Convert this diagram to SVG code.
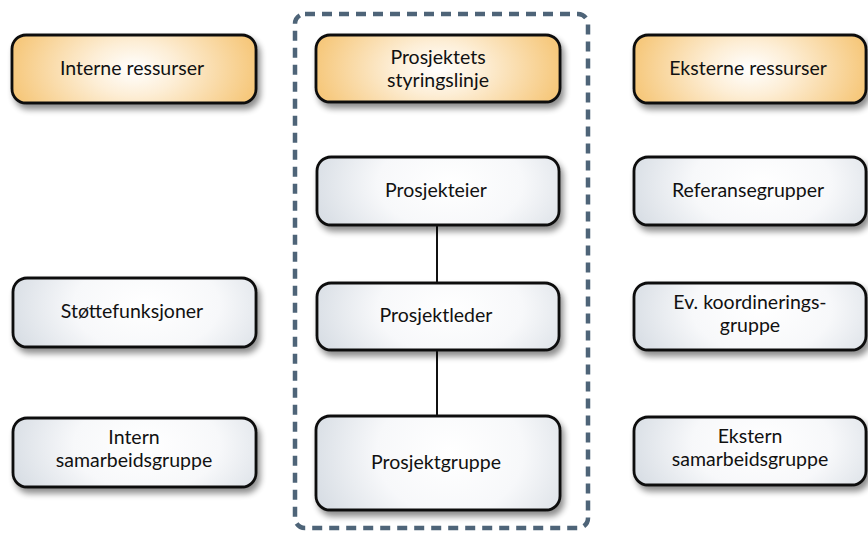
<svg xmlns="http://www.w3.org/2000/svg" width="868" height="535" viewBox="0 0 868 535">
<style>
  .box { stroke: #111; stroke-width: 2.8; }
  .hdr { fill: url(#gOrange); }
  .std { fill: url(#gGray); }
  .lbl { font-family: Lato, "Liberation Sans", Arial, sans-serif; font-size: 19.5px; fill: #111; text-anchor: middle; }
  .conn { stroke: #111; stroke-width: 2; fill: none; }
</style>
<defs>
  <radialGradient id="gOrange" cx="0.5" cy="0.5" r="0.6" fx="0.5" fy="0.5" gradientTransform="translate(0.5 0.5) scale(1 2.2) translate(-0.5 -0.5)">
    <stop offset="0" stop-color="#ffffff"/>
    <stop offset="0.3" stop-color="#fdeed6"/>
    <stop offset="1" stop-color="#f4bd62"/>
  </radialGradient>
  <radialGradient id="gGray" cx="0.55" cy="0.45" r="0.6" gradientTransform="translate(0.5 0.5) scale(1 2.2) translate(-0.5 -0.5)">
    <stop offset="0" stop-color="#ffffff"/>
    <stop offset="0.5" stop-color="#f7f8fa"/>
    <stop offset="1" stop-color="#d6dce3"/>
  </radialGradient>
  <filter id="sh" x="-10%" y="-20%" width="125%" height="150%">
    <feGaussianBlur in="SourceAlpha" stdDeviation="3"/>
    <feOffset dx="3" dy="5" result="b"/>
    <feComponentTransfer><feFuncA type="linear" slope="0.45"/></feComponentTransfer>
    <feMerge><feMergeNode/><feMergeNode in="SourceGraphic"/></feMerge>
  </filter>
</defs>
<rect x="0" y="0" width="868" height="535" fill="#ffffff"/>

<rect id="frame" x="295" y="14" width="293" height="514" rx="10" fill="none" stroke="#4e6478" stroke-width="4.5" stroke-dasharray="10 7"/>

<g id="connectors">
  <line class="conn" x1="437" y1="225" x2="437" y2="283"/>
  <line class="conn" x1="437" y1="350" x2="437" y2="416"/>
</g>

<g id="interne">
  <rect class="box hdr" x="12" y="35" width="244" height="68" rx="14" filter="url(#sh)"/>
  <text class="lbl" x="132" y="75">Interne ressurser</text>
</g>
<g id="styringslinje">
  <rect class="box hdr" x="316" y="35" width="244" height="67" rx="14" filter="url(#sh)"/>
  <text class="lbl" x="438" y="64">Prosjektets</text>
  <text class="lbl" x="438" y="87">styringslinje</text>
</g>
<g id="eksterne">
  <rect class="box hdr" x="634" y="35" width="232" height="68" rx="14" filter="url(#sh)"/>
  <text class="lbl" x="748" y="75">Eksterne ressurser</text>
</g>

<g id="prosjekteier">
  <rect class="box std" x="317" y="157" width="242" height="68" rx="14" filter="url(#sh)"/>
  <text class="lbl" x="436" y="197">Prosjekteier</text>
</g>
<g id="referansegrupper">
  <rect class="box std" x="634" y="157" width="232" height="68" rx="14" filter="url(#sh)"/>
  <text class="lbl" x="748" y="197">Referansegrupper</text>
</g>

<g id="stottefunksjoner">
  <rect class="box std" x="13" y="278" width="243" height="69" rx="14" filter="url(#sh)"/>
  <text class="lbl" x="132" y="318">Støttefunksjoner</text>
</g>
<g id="prosjektleder">
  <rect class="box std" x="317" y="283" width="242" height="67" rx="14" filter="url(#sh)"/>
  <text class="lbl" x="436" y="322">Prosjektleder</text>
</g>
<g id="koordineringsgruppe">
  <rect class="box std" x="634" y="283" width="232" height="67" rx="14" filter="url(#sh)"/>
  <text class="lbl" x="750" y="309">Ev. koordinerings-</text>
  <text class="lbl" x="750" y="332">gruppe</text>
</g>

<g id="intern-samarbeid">
  <rect class="box std" x="13" y="418" width="243" height="69" rx="14" filter="url(#sh)"/>
  <text class="lbl" x="134" y="444">Intern</text>
  <text class="lbl" x="134" y="467">samarbeidsgruppe</text>
</g>
<g id="prosjektgruppe">
  <rect class="box std" x="316" y="416" width="244" height="94" rx="14" filter="url(#sh)"/>
  <text class="lbl" x="436" y="469">Prosjektgruppe</text>
</g>
<g id="ekstern-samarbeid">
  <rect class="box std" x="634" y="417" width="232" height="68" rx="14" filter="url(#sh)"/>
  <text class="lbl" x="750" y="443">Ekstern</text>
  <text class="lbl" x="750" y="466">samarbeidsgruppe</text>
</g>
</svg>
